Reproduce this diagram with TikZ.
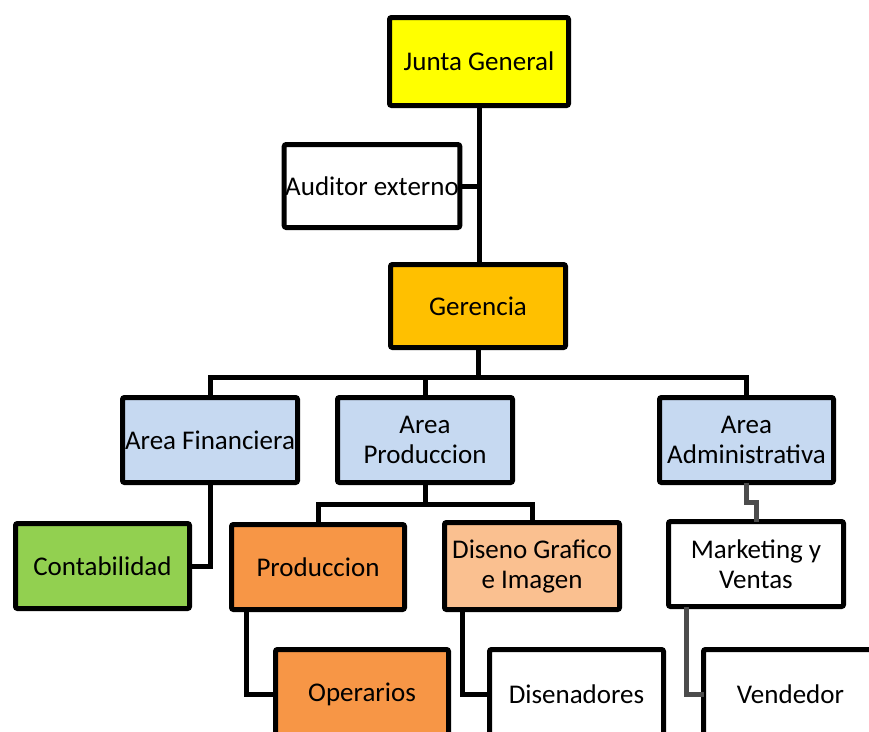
\documentclass[tikz,border=0pt]{standalone}
\usepackage{fontspec}
\setmainfont{Carlito}
\definecolor{jgYellow}{HTML}{FFFF00}
\definecolor{gerOrange}{HTML}{FFC000}
\definecolor{areaBlue}{HTML}{C6D9F1}
\definecolor{contGreen}{HTML}{92D050}
\definecolor{prodOrange}{HTML}{F79646}
\definecolor{disPeach}{HTML}{FAC090}
\tikzset{
  orgbox/.style={draw=black, line width=5pt, rounded corners=2pt, rectangle,
    inner sep=1pt, outer sep=0pt, align=center,
    font=\fontsize{27}{30}\selectfont, text=black},
  link/.style={draw=black, line width=5pt},
  greylink/.style={draw=black!70, line width=5pt},
}
\begin{document}
\begin{tikzpicture}[x=1pt,y=-1pt]
\useasboundingbox (0,0) rectangle (869,731);
\fill[white] (0,0) rectangle (869,731);
\clip (0,0) rectangle (869,731);

\node[orgbox, fill=jgYellow, minimum width=179pt, minimum height=88pt] (junta) at (479,61.5) {Junta General};
\node[orgbox, fill=white, minimum width=175pt, minimum height=83pt] (aud) at (372,186) {Auditor externo};
\node[orgbox, fill=gerOrange, minimum width=175pt, minimum height=83pt] (ger) at (478,306) {Gerencia};

\node[orgbox, fill=areaBlue, minimum width=175pt, minimum height=85pt] (fin) at (210,440) {Area Financiera};
\node[orgbox, fill=areaBlue, minimum width=175pt, minimum height=85pt] (ap) at (425,440) {Area\\Produccion};
\node[orgbox, fill=areaBlue, minimum width=174pt, minimum height=85pt] (adm) at (746.5,440) {Area\\Administrativa};

\node[orgbox, fill=contGreen, minimum width=174pt, minimum height=85pt] (cont) at (102.5,566) {Contabilidad};
\node[orgbox, fill=prodOrange, minimum width=173pt, minimum height=85pt] (prod) at (318,567) {Produccion};
\node[orgbox, fill=disPeach, minimum width=175pt, minimum height=87pt] (dis) at (532,566) {Diseno Grafico\\e Imagen};
\node[orgbox, fill=white, minimum width=175pt, minimum height=85pt] (mkt) at (756,564) {Marketing y\\Ventas};

\node[orgbox, fill=prodOrange, minimum width=173pt, minimum height=90pt] (oper) at (362,694.5) {Operarios};
\node[orgbox, fill=white, minimum width=174pt, minimum height=90pt] (dsn) at (576.5,694.5) {Disenadores};
\node[orgbox, fill=white, minimum width=174pt, minimum height=90pt] (vend) at (790.5,694.5) {Vendedor};

\coordinate (bar) at (0,377);
\coordinate (bar2) at (0,504);
\coordinate (jog) at (0,502);

\draw[link] (junta.south) -- (junta.south |- ger.north);
\draw[link] (aud.east) -- (aud.east -| junta.south);
\draw[link] (ger.south) -- (ger.south |- bar);
\draw[link] (fin.north) -- (fin.north |- bar) -- (adm.north |- bar) -- (adm.north);
\draw[link] (ap.north) -- (ap.north |- bar);
\draw[link] (fin.south) |- (cont.east);
\draw[link] (ap.south) -- (ap.south |- bar2);
\draw[link] (prod.north) -- (prod.north |- bar2) -- (dis.north |- bar2) -- (dis.north);
\draw[greylink] (adm.south) -- (adm.south |- jog) -| (mkt.north);
\draw[link] ([xshift=14.5pt]prod.south west) |- (oper.west);
\draw[link] ([xshift=17.5pt]dis.south west) |- (dsn.west);
\draw[greylink] ([xshift=17.5pt]mkt.south west) |- (vend.west);
\end{tikzpicture}
\end{document}
